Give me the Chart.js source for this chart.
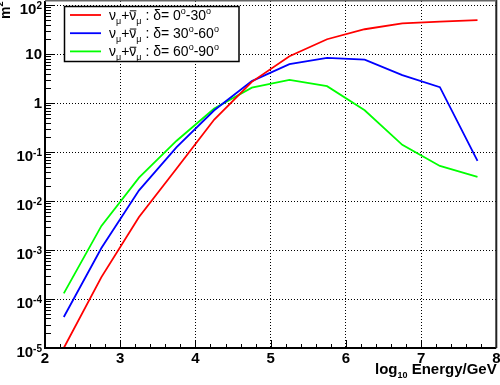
<!DOCTYPE html>
<html>
<head>
<meta charset="utf-8">
<script src="https://cdn.jsdelivr.net/npm/chart.js@4.4.1/dist/chart.umd.min.js"></script>
<style>
  html, body { margin: 0; padding: 0; background: #fff; }
</style>
</head>
<body>
<canvas id="c" width="500" height="385"></canvas>
<script>
// bin centres, log10(E/GeV)
const energies = [2.25, 2.75, 3.25, 3.75, 4.25, 4.75, 5.25, 5.75, 6.25, 6.75, 7.25, 7.75];
// effective area (m^2) per declination band
const area0to30 = [1.0e-5, 2.8e-4, 4.7e-3, 0.046, 0.46, 2.7, 9.0, 20, 32, 42, 46, 49];
const area30to60 = [4.3e-5, 1.1e-3, 0.0165, 0.126, 0.71, 2.8, 6.2, 8.3, 7.7, 3.7, 2.1, 0.066];
const area60to90 = [1.3e-4, 3.1e-3, 0.030, 0.17, 0.77, 2.06, 2.95, 2.2, 0.71, 0.14, 0.052, 0.031];
const bandRanges = [["0", "30"], ["30", "60"], ["60", "90"]];
const xTickValues = [2, 3, 4, 5, 6, 7, 8];
const yExponents = [-5, -4, -3, -2, -1, 0, 1, 2];

const colors = ["#ff0000", "#0000ff", "#00ff00"];
const FONT = '"Liberation Sans", Helvetica, Arial, sans-serif';

const series = [area0to30, area30to60, area60to90];

// draws a run of text pieces: n = normal, sub, sup, bar = overlined
const drawRuns = (ctx, x, y, runs, size, weight) => {
  const small = Math.round(size * 0.62);
  runs.forEach(([txt, kind]) => {
    const s = (kind === "sub" || kind === "sup") ? small : size;
    ctx.font = weight + " " + s + "px " + FONT;
    let dy = 0;
    if (kind === "sub") dy = size * 0.27;
    if (kind === "sup") dy = -size * 0.45;
    ctx.fillText(txt, x, y + dy);
    const w = ctx.measureText(txt).width;
    if (kind === "bar") {
      ctx.lineWidth = 1;
      ctx.beginPath();
      ctx.moveTo(x + 0.5, y - size * 0.64);
      ctx.lineTo(x + w, y - size * 0.64);
      ctx.stroke();
    }
    x += w;
  });
  return x;
};

const runsWidth = (ctx, runs, size, weight) => {
  const small = Math.round(size * 0.62);
  let w = 0;
  runs.forEach(([txt, kind]) => {
    const s = (kind === "sub" || kind === "sup") ? small : size;
    ctx.font = weight + " " + s + "px " + FONT;
    w += ctx.measureText(txt).width;
  });
  return w;
};

const rootFrame = {
  id: "rootFrame",
  afterDatasetsDraw(chart) {
    const ctx = chart.ctx;
    const a = chart.chartArea;
    const xs = chart.scales.x, ys = chart.scales.y;
    ctx.save();
    ctx.strokeStyle = "#000";
    ctx.fillStyle = "#000";

    // x ticks, 5 divisions per unit, pointing up
    ctx.lineWidth = 1;
    for (let i = 0; i <= 30; i++) {
      const v = 2 + i * 0.2;
      const px = Math.round(xs.getPixelForValue(v)) + 0.5;
      const len = (i % 5 === 0) ? 8 : 4;
      ctx.beginPath();
      ctx.moveTo(px, a.bottom);
      ctx.lineTo(px, a.bottom - len);
      ctx.stroke();
    }
    // y log ticks pointing right
    yExponents.forEach(e => {
      for (let m = 1; m <= 9; m++) {
        const v = m * Math.pow(10, e);
        if (v > ys.max) continue;
        const py = Math.round(ys.getPixelForValue(v)) + 0.5;
        ctx.beginPath();
        ctx.moveTo(a.left, py);
        ctx.lineTo(a.left + (m === 1 ? 9 : 6), py);
        ctx.stroke();
      }
    });

    // frame
    ctx.lineWidth = 2;
    ctx.beginPath();
    ctx.moveTo(a.left, a.top);
    ctx.lineTo(a.left, a.bottom);
    ctx.lineTo(a.right, a.bottom);
    ctx.stroke();
    ctx.strokeStyle = "#222";
    ctx.beginPath();
    ctx.moveTo(a.right, a.bottom);
    ctx.lineTo(a.right, 0);
    ctx.stroke();
    ctx.strokeStyle = "#666";
    ctx.lineWidth = 1.5;
    ctx.beginPath();
    ctx.moveTo(a.left, 0.8);
    ctx.lineTo(a.right, 0.8);
    ctx.stroke();

    // x tick labels
    ctx.font = "bold 15px " + FONT;
    ctx.textAlign = "center";
    ctx.textBaseline = "alphabetic";
    xTickValues.forEach(v => {
      ctx.fillText(String(v), xs.getPixelForValue(v), 363);
    });

    // y tick labels with superscript exponents
    ctx.textAlign = "left";
    yExponents.forEach(e => {
      const py = ys.getPixelForValue(Math.pow(10, e));
      const mant = e === 0 ? "1" : "10";
      const exp = (e === 0 || e === 1) ? "" : String(e);
      ctx.font = "bold 15px " + FONT;
      const mw = ctx.measureText(mant).width;
      ctx.font = "bold 10px " + FONT;
      const ew = ctx.measureText(exp).width;
      const x0 = 42 - mw - ew;
      ctx.font = "bold 15px " + FONT;
      if (exp) {
        ctx.fillText(mant, x0, py + 9);
        ctx.font = "bold 10px " + FONT;
        ctx.fillText(exp, x0 + mw, py + 3.5);
      } else {
        ctx.fillText(mant, x0, py + 5.3);
      }
    });

    // x axis title, right aligned
    const xTitle = [["log", "n"], ["10", "sub"], [" Energy/GeV", "n"]];
    const tw = runsWidth(ctx, xTitle, 15, "bold");
    drawRuns(ctx, 496.7 - tw, 374, xTitle, 15, "bold");

    // y axis title, rotated, at top
    ctx.save();
    ctx.translate(9.5, 19);
    ctx.rotate(-Math.PI / 2);
    drawRuns(ctx, 0, 0, [["m", "n"], ["2", "sup"]], 14, "bold");
    ctx.restore();

    // legend
    ctx.fillStyle = "#fff";
    ctx.fillRect(64.5, 6.5, 174.5, 55);
    ctx.strokeStyle = "#000";
    ctx.lineWidth = 1.5;
    ctx.strokeRect(64.5, 6.5, 174.5, 55);
    bandRanges.forEach(([lo, hi], i) => {
      const base = 19.8 + i * 18.2;
      ctx.strokeStyle = colors[i];
      ctx.lineWidth = 1.8;
      ctx.beginPath();
      ctx.moveTo(70, base - 4.8);
      ctx.lineTo(101, base - 4.8);
      ctx.stroke();
      ctx.fillStyle = "#000";
      ctx.strokeStyle = "#000";
      drawRuns(ctx, 109, base, [
        ["ν", "n"], ["μ", "sub"], ["+", "n"], ["ν", "bar"], ["μ", "sub"],
        [" : ", "n"], ["δ", "n"], ["= " + lo, "n"], ["o", "sup"], ["-" + hi, "n"], ["o", "sup"]
      ], 14, "normal");
    });
    ctx.restore();
  }
};

const hideEdge = (edges) => (c) => edges.includes(c.tick.value) ? "rgba(0,0,0,0)" : "#000";

new Chart(document.getElementById("c"), {
  type: "line",
  data: {
    datasets: series.map((vals, i) => ({
      label: bandRanges[i].join("-"),
      data: energies.map((x, j) => ({ x: x, y: vals[j] })),
      borderColor: colors[i],
      borderWidth: 1.8,
      pointRadius: 0,
      tension: 0,
      fill: false
    }))
  },
  options: {
    responsive: false,
    animation: false,
    devicePixelRatio: 1,
    layout: { padding: { left: 45, right: 3.7, top: 1, bottom: 37 } },
    scales: {
      x: {
        type: "linear",
        min: 2,
        max: 8,
        ticks: { display: false, stepSize: 1 },
        grid: { color: hideEdge([2, 8]), drawTicks: false, lineWidth: 1 },
        border: { display: false, dash: [1, 2] }
      },
      y: {
        type: "logarithmic",
        min: 1e-5,
        max: 120.7,
        afterBuildTicks: (sc) => {
          sc.ticks = yExponents.map(e => ({ value: Math.pow(10, e) }));
        },
        ticks: { display: false },
        grid: { color: hideEdge([1e-5]), drawTicks: false, lineWidth: 1 },
        border: { display: false, dash: [1, 2] }
      }
    },
    plugins: {
      legend: { display: false },
      tooltip: { enabled: false }
    }
  },
  plugins: [rootFrame]
});
</script>
</body>
</html>
